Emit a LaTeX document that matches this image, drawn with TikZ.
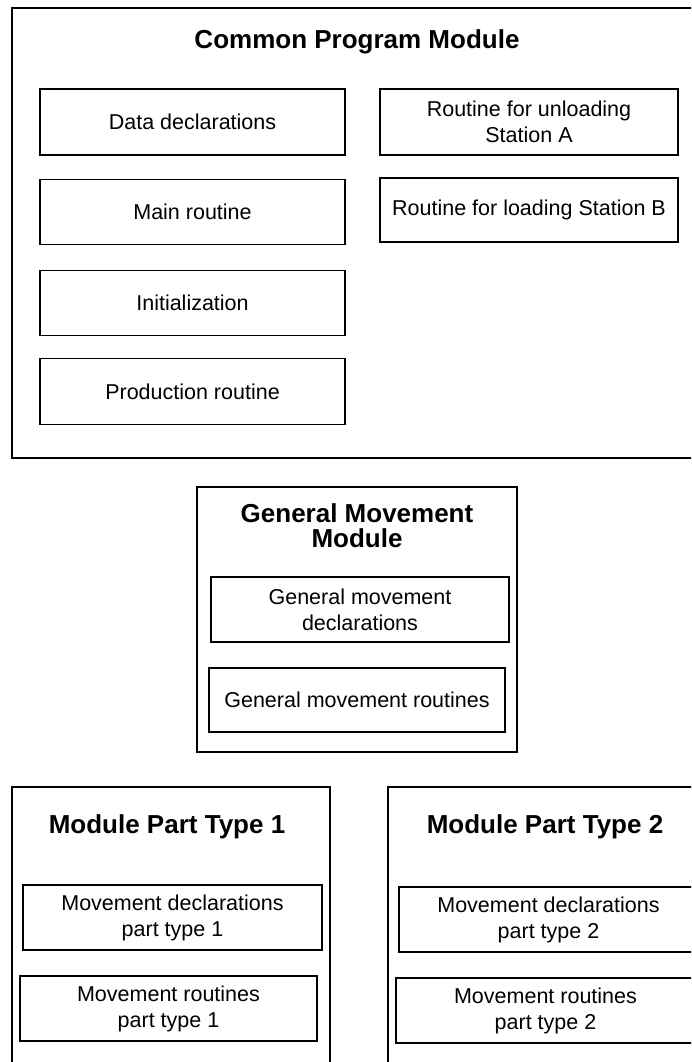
\documentclass[tikz,border=0pt]{standalone}
\usepackage{fontspec}
\setmainfont{Liberation Sans}
\usepackage{tikz}
\usetikzlibrary{positioning}

\begin{document}
\begin{tikzpicture}[
      x=1pt, y=-1pt,
      modbox/.style={draw=black, line width=1.3pt, inner sep=0pt},
      partbox/.style={draw=black, line width=1.3pt, inner sep=1pt, align=center,
                   font=\fontsize{21.5}{26}\selectfont},
      modtitle/.style={align=center, inner sep=0pt,
                   font=\bfseries\fontsize{26}{25.5}\selectfont}
  ]
      \useasboundingbox (0,0) rectangle (691,1062);
      \clip (0,0) rectangle (691,1062);

      % Common Program Module
      \node[modbox, minimum width=690pt, minimum height=450pt] (cpm) at (357,233) {};
      \node[modtitle] (cpmtitle) at (357,42) {Common Program Module};

      \node[partbox, minimum width=305pt, minimum height=66pt] (datadecl) at (192.5,122) {Data declarations};
      \node[partbox, minimum width=305pt, minimum height=65pt] (mainrout) at (192.5,212) {Main routine};
      \node[partbox, minimum width=305pt, minimum height=65pt] (init) at (192.5,303) {Initialization};
      \node[partbox, minimum width=305pt, minimum height=66pt] (prodrout) at (192.5,391.5) {Production routine};

      \node[partbox, minimum width=298pt, minimum height=66pt] (unloadA) at (529,122) {Routine for unloading\\Station A};
      \node[partbox, minimum width=298pt, minimum height=64pt] (loadB) at (529,210) {Routine for loading Station B};

      % General Movement Module
      \node[modbox, minimum width=320pt, minimum height=265pt] (gmm) at (357,619.5) {};
      \node[modtitle] (gmmtitle) at (357,525.5) {General Movement\\Module};

      \node[partbox, minimum width=298pt, minimum height=65pt] (gmdecl) at (360,609.5) {General movement\\declarations};
      \node[partbox, minimum width=296pt, minimum height=64pt] (gmrout) at (357,700) {General movement routines};

      % Module Part Type 1
      \node[modbox, minimum width=318pt, minimum height=293pt] (mpt1) at (171,933.5) {};
      \node[modtitle] (mpt1title) at (167,827) {Module Part Type 1};

      \node[partbox, minimum width=299pt, minimum height=65pt] (mdecl1) at (172.5,917.5) {Movement declarations\\part type 1};
      \node[partbox, minimum width=297pt, minimum height=65pt] (mrout1) at (168.5,1008.5) {Movement routines\\part type 1};

      % Module Part Type 2
      \node[modbox, minimum width=318pt, minimum height=293pt] (mpt2) at (547,933.5) {};
      \node[modtitle] (mpt2title) at (545,827) {Module Part Type 2};

      \node[partbox, minimum width=299pt, minimum height=65pt] (mdecl2) at (548.5,919.5) {Movement declarations\\part type 2};
      \node[partbox, minimum width=299pt, minimum height=65pt] (mrout2) at (545.5,1010.5) {Movement routines\\part type 2};
  \end{tikzpicture}
\end{document}
